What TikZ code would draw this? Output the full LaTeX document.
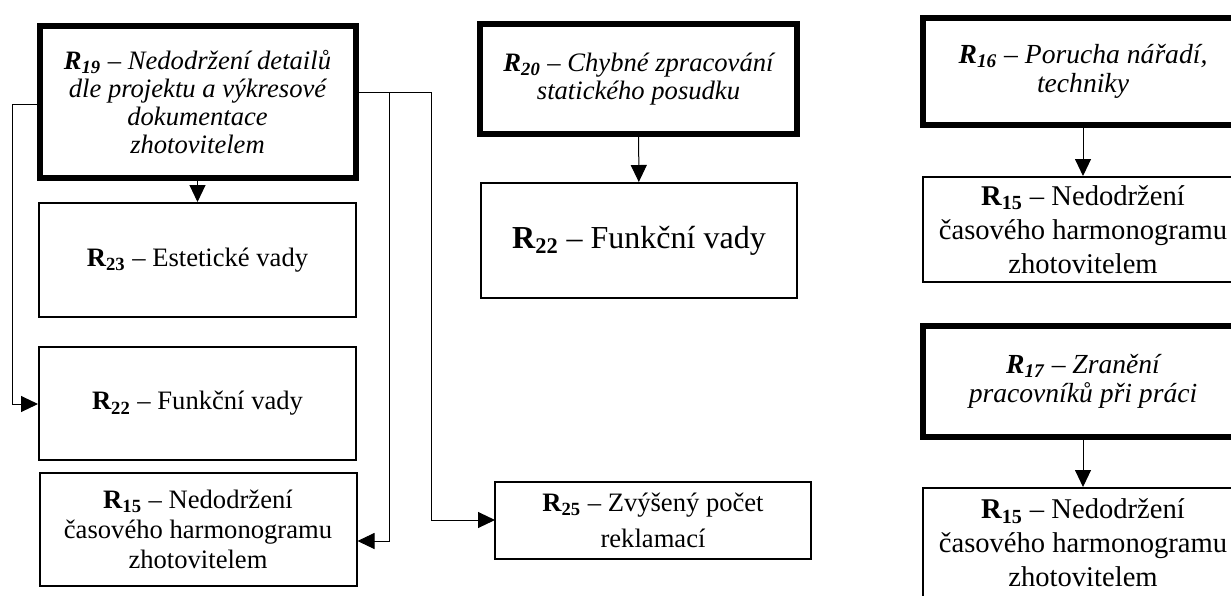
\documentclass[tikz,border=0pt]{standalone}
\usepackage{fontspec}
\setmainfont{Liberation Serif}
\usepackage{tikz}
\usetikzlibrary{arrows.meta}
\tikzset{arrow/.style={-{Triangle[length=8.5pt,width=8pt]}, line width=0.5pt}}
\tikzset{cause/.style={draw, line width=3pt, align=center,
    font=\fontsize{13.3}{14}\selectfont\itshape}}
\tikzset{effect/.style={draw, line width=1pt, align=center,
    font=\fontsize{13.3}{15}\selectfont}}
\newcommand{\riskid}[1]{\textbf{R\textsubscript{#1}}}

\begin{document}
\begin{tikzpicture}[x=0.5pt, y=-0.5pt]
    \useasboundingbox (0,0) rectangle (1231,595);
    \clip (0,0) rectangle (1231,595);
    % left column
    \node[cause, minimum width=158pt, minimum height=76pt] (r19) at (197.5, 102)
      {\riskid{19} -- Nedodržení detailů\\dle projektu a výkresové\\dokumentace\\zhotovitelem};
    \node[effect, minimum width=158.5pt, minimum height=57pt] (r23) at (197.5, 260)
      {\riskid{23} -- Estetické vady};
    \node[effect, minimum width=158.5pt, minimum height=56.5pt] (r22a) at (197.5, 403.5)
      {\riskid{22} -- Funkční vady};
    \node[effect, minimum width=158.5pt, minimum height=56.5pt] (r15a) at (198, 529.5)
      {\riskid{15} -- Nedodržení\\časového harmonogramu\\zhotovitelem};
    \draw[arrow] (r19) -- (r23);
    \draw[arrow] (r19.west |- 0,104) -| (12,404) -- (r22a.west |- 0,404);
    \draw[arrow] (r19.east |- 0,92) -| (389,541) -- (r15a.east |- 0,541);
    \draw[arrow] (r19.east |- 0,92) -| (431,520) -- (495,520);
    % middle column
    \node[cause, minimum width=158.5pt, minimum height=55pt] (r20) at (638.5, 79)
      {\riskid{20} -- Chybné zpracování\\statického posudku};
    \node[effect, minimum width=158pt, minimum height=57.5pt,
      font=\fontsize{16}{18}\selectfont] (r22b) at (639, 240.5)
      {\riskid{22} -- Funkční vady};
    \node[effect, minimum width=158pt, minimum height=38.5pt,
      font=\fontsize{13.3}{18}\selectfont] (r25) at (653, 520.5)
      {\riskid{25} -- Zvýšený počet\\reklamací};
    \draw[arrow] (r20) -- (r22b);
    % right column
    \tikzset{cause/.append style={font=\fontsize{13.8}{14.5}\selectfont\itshape},
      effect/.append style={font=\fontsize{14.3}{17}\selectfont}}
    \node[cause, minimum width=160pt, minimum height=53.5pt] (r16) at (1083, 71.5)
      {\riskid{16} -- Porucha nářadí,\\techniky};
    \node[effect, minimum width=160pt, minimum height=52.5pt] (r15b) at (1083, 229.5)
      {\riskid{15} -- Nedodržení\\časového harmonogramu\\zhotovitelem};
    \node[cause, minimum width=160pt, minimum height=55.5pt] (r17) at (1083, 381.5)
      {\riskid{17} -- Zranění\\pracovníků při práci};
    \node[effect, minimum width=160pt, minimum height=55pt, anchor=north] (r15c) at (1083, 487)
      {\riskid{15} -- Nedodržení\\časového harmonogramu\\zhotovitelem};
    \draw[arrow] (r16) -- (r15b);
    \draw[arrow] (r17) -- (r15c);
\end{tikzpicture}
\end{document}
